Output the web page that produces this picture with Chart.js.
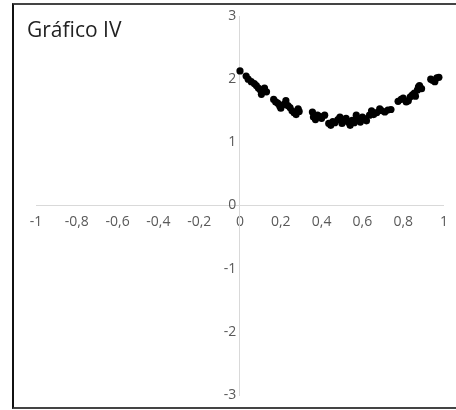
<!DOCTYPE html>
<html>
<head>
<meta charset="utf-8">
<script src="https://cdn.jsdelivr.net/npm/chart.js@4/dist/chart.umd.min.js"></script>
<style>
  html, body { margin: 0; padding: 0; background: #fff; }
  #wrap { position: relative; width: 456px; height: 410px; }
  #frame { position: absolute; left: 12px; top: 3px; width: 444px; height: 406px;
           border-left: 2px solid #111; border-top: 2px solid #444; border-bottom: 2px solid #444; box-sizing: border-box; }
  #title { position: absolute; left: 27px; top: 15px; font-family: "Open Sans", sans-serif; font-size: 21px; color: #222; }
  canvas { position: absolute; left: 0; top: 0; }
</style>
</head>
<body>
<div id="wrap">
  <div id="frame"></div>
  <canvas id="chart" width="456" height="410"></canvas>
  <div id="title">Gráfico IV</div>
</div>
<script>
// values
const xValues = [0.00, 0.03, 0.04, 0.055, 0.07, 0.08, 0.09, 0.10, 0.105, 0.12, 0.13,
  0.165, 0.175, 0.185, 0.195, 0.20, 0.215, 0.225, 0.235, 0.245, 0.255, 0.265, 0.275, 0.285, 0.29,
  0.355, 0.36, 0.37, 0.38, 0.39, 0.40, 0.415,
  0.435, 0.445, 0.455, 0.465, 0.48, 0.49, 0.50, 0.51, 0.52, 0.53, 0.54, 0.55, 0.56, 0.57, 0.58, 0.59,
  0.60, 0.61, 0.62, 0.635, 0.645, 0.655, 0.67, 0.685, 0.695, 0.71, 0.725, 0.74,
  0.775, 0.79, 0.80, 0.815, 0.825, 0.835, 0.845, 0.855, 0.86, 0.87, 0.875, 0.88, 0.89,
  0.935, 0.945, 0.955, 0.965, 0.975];
const yValues = [2.13, 2.05, 2.00, 1.96, 1.93, 1.90, 1.86, 1.83, 1.76, 1.86, 1.80,
  1.68, 1.64, 1.62, 1.57, 1.54, 1.60, 1.66, 1.58, 1.55, 1.50, 1.47, 1.44, 1.53, 1.49,
  1.48, 1.40, 1.36, 1.43, 1.41, 1.38, 1.43,
  1.30, 1.27, 1.33, 1.31, 1.36, 1.40, 1.30, 1.35, 1.38, 1.32, 1.27, 1.35, 1.31, 1.43, 1.36, 1.32,
  1.40, 1.37, 1.34, 1.43, 1.50, 1.44, 1.47, 1.53, 1.50, 1.48, 1.51, 1.52,
  1.65, 1.68, 1.70, 1.64, 1.66, 1.72, 1.75, 1.78, 1.73, 1.83, 1.88, 1.90, 1.85,
  2.00, 1.98, 1.96, 2.02, 2.03];
const xTicks = [-1, -0.8, -0.6, -0.4, -0.2, 0, 0.2, 0.4, 0.6, 0.8, 1];
const yTicks = [-3, -2, -1, 0, 1, 2, 3];

const points = xValues.map((x, i) => ({ x: x, y: yValues[i] }));
const fmt = v => String(Math.round(v * 10) / 10).replace('.', ',');

const tickFont = { family: '"Open Sans", sans-serif', size: 14 };

new Chart(document.getElementById('chart'), {
  type: 'scatter',
  data: {
    datasets: [{
      data: points,
      backgroundColor: '#000',
      borderWidth: 0,
      pointRadius: 3.6,
      pointHoverRadius: 3.6
    }]
  },
  options: {
    responsive: false,
    animation: false,
    layout: { padding: { left: 36, right: 12, top: 16, bottom: 15 } },
    plugins: { legend: { display: false }, tooltip: { enabled: false } },
    scales: {
      x: {
        type: 'linear',
        position: { y: 0 },
        min: -1, max: 1,
        afterFit: s => { s.height = 0; },
        afterBuildTicks: s => { s.ticks = xTicks.map(v => ({ value: v })); },
        grid: { display: false, drawTicks: false },
        border: { display: true, color: '#d9d9d9', width: 1 },
        ticks: { color: '#595959', font: tickFont, padding: 8, maxRotation: 0, autoSkip: false, callback: v => fmt(v) }
      },
      y: {
        type: 'linear',
        position: { x: 0 },
        min: -3, max: 3,
        afterFit: s => { s.width = 0; },
        afterBuildTicks: s => { s.ticks = yTicks.map(v => ({ value: v })); },
        grid: { display: false, drawTicks: false },
        border: { display: true, color: '#d9d9d9', width: 1 },
        ticks: { color: '#595959', font: tickFont, autoSkip: false, callback: v => fmt(v) + ' ' }
      }
    }
  }
});
</script>
</body>
</html>
